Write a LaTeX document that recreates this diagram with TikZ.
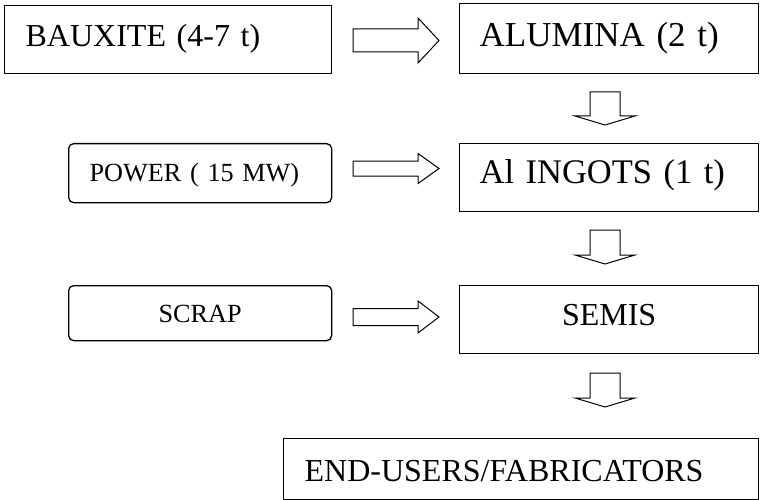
\documentclass[tikz,border=0pt]{standalone}
\usepackage{fontspec}
\setmainfont{Liberation Serif}
\usetikzlibrary{positioning}
\tikzset{
    stepbox/.style = {draw=black, line width=1.3pt, anchor=north west, inner ysep=0pt, align=left},
    inbox/.style = {stepbox, rounded corners=5pt},
    fbig/.style = {font=\fontsize{32pt}{36pt}\selectfont},
    fmid/.style = {font=\fontsize{35pt}{38pt}\selectfont},
    fsmall/.style = {font=\fontsize{26.2pt}{30pt}\selectfont},
    blockline/.style = {draw=black, line width=1pt, fill=white, line join=miter},
    % right block arrow: length / shaft half / head half
    pics/rblock/.style n args={3}{code={
        \draw[blockline] (0,#2) -- (#1-21,#2) -- (#1-21,#3) -- (#1,0)
            -- (#1-21,-#3) -- (#1-21,-#2) -- (0,-#2) -- cycle;}},
    % down block arrow: length
    pics/dblock/.style={code={
        \draw[blockline] (-15,0) -- (-15,#1-9) -- (-30,#1-9) -- (0,#1)
            -- (30,#1-9) -- (15,#1-9) -- (15,0) -- cycle;}}
}
\begin{document}
\begin{tikzpicture}[x=1pt,y=-1pt]
\useasboundingbox (0,0) rectangle (760,500);
%
\node[stepbox,fbig,text width=285pt,inner xsep=21pt,text height=41pt,text depth=27pt] at (4,5) (bauxite) {BAUXITE (4-7 t)};
\node[stepbox,fmid,text width=259pt,inner xsep=20pt,text height=43pt,text depth=27pt] at (459,3) (alumina) {ALUMINA (2 t)};
\node[inbox,fsmall,text width=221pt,inner xsep=21pt,text height=38pt,text depth=21pt] at (68,143) (power) {POWER ( 15 MW)};
\node[stepbox,fmid,font=\fontsize{34.5pt}{38pt}\selectfont,text width=259pt,inner xsep=20pt,text height=40pt,text depth=28pt] at (459,143) (ingots) {Al INGOTS (1 t)};
\node[inbox,fsmall,text width=221pt,inner xsep=21pt,text height=37pt,text depth=18pt,align=center] at (68,285) (scrap) {SCRAP};
\node[stepbox,fbig,text width=259pt,inner xsep=20pt,text height=40pt,text depth=28pt,align=center] at (459,285) (semis) {SEMIS};
\node[stepbox,fbig,text width=433pt,inner xsep=21pt,text height=43pt,text depth=18pt] at (283,438) (endusers) {END-USERS/FABRICATORS};
%
\pic at (353,40.5) {rblock={86}{11.5}{22.5}};
\pic at (353,168.5) {rblock={86}{7.5}{15}};
\pic at (353,317) {rblock={86}{8.5}{16}};
%
\pic at (605,92) {dblock=33};
\pic at (605,230) {dblock=34};
\pic at (605,373) {dblock=34};

\end{tikzpicture}
\end{document}
